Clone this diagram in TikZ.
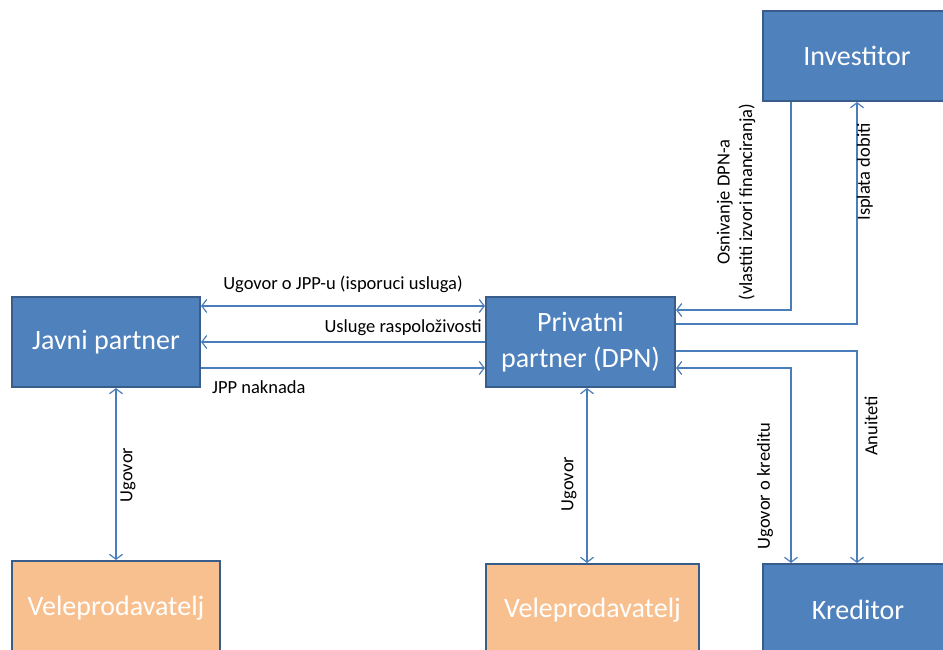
\documentclass[tikz,border=0pt]{standalone}
\usepackage{fontspec}
\setmainfont{Carlito}
\usetikzlibrary{arrows.meta,calc}
\definecolor{boxblue}{HTML}{4F81BD}
\definecolor{boxedge}{HTML}{385D8A}
\definecolor{boxorange}{HTML}{F9C08F}
\definecolor{linkblue}{HTML}{4A7EBB}
\begin{document}
\begin{tikzpicture}[x=1pt,y=-1pt,
  bluebox/.style={draw=boxedge,line width=2pt,fill=boxblue,text=white,font=\fontsize{28}{36}\selectfont,align=center,inner sep=0pt},
  orangebox/.style={draw=boxedge,line width=2pt,fill=boxorange,text=white,font=\fontsize{28}{36}\selectfont,align=center,inner sep=0pt},
  link/.style={draw=linkblue,line width=1.2pt,>={Straight Barb[length=5pt,width=13pt,line width=1.2pt]}},
  lbl/.style={font=\fontsize{18.5}{22.5}\selectfont,text=black,inner sep=0pt,align=center}]
\useasboundingbox (0,0) rectangle (943,650);
\fill[white] (0,0) rectangle (943,650);
% boxes
\node[bluebox,minimum width=188pt,minimum height=90pt] (jav) at (106,342) {Javni partner};
\node[bluebox,minimum width=189pt,minimum height=90pt] (pri) at (580.5,342) {Privatni\\partner (DPN)};
\node[bluebox,minimum width=188pt,minimum height=90pt] (inv) at (857,56) {Investitor};
\node[bluebox,minimum width=190pt,minimum height=92pt] (kre) at (858,610) {Kreditor};
\node[orangebox,minimum width=208pt,minimum height=94pt] (vel1) at (116,608) {Veleprodavatelj};
\node[orangebox,minimum width=213pt,minimum height=92pt] (vel2) at (592.5,610) {Veleprodavatelj};
% connectors
\draw[link,<->] ([yshift=36pt]jav.east) -- ([yshift=36pt]pri.west);
\draw[link,->] (pri.west) -- (jav.east);
\draw[link,->] ([yshift=-26pt]jav.east) -- ([yshift=-26pt]pri.west);
\draw[link,<->] (vel1.north |- jav.south) -- (vel1.north);
\draw[link,<->] ([xshift=6.5pt]pri.south) -- ([xshift=6.5pt]pri.south |- vel2.north);
\draw[link,->] ([xshift=-66pt]inv.south) |- ([yshift=32pt]pri.east);
\draw[link,->] ([yshift=18pt]pri.east) -| (inv.south);
\draw[link,->] ([yshift=-9pt]pri.east) -| ([xshift=-1pt]kre.north);
\draw[link,<->] ([xshift=-67pt]kre.north) |- ([yshift=-26pt]pri.east);
% labels
\node[lbl] (l1) at (343,284) {Ugovor o JPP-u (isporuci usluga)};
\node[lbl,anchor=east] (l2) at (482,328) {Usluge raspoloživosti};
\node[lbl,anchor=west] (l3) at (212,387) {JPP naknada};
\node[lbl,rotate=90] (l4) at (128,475) {Ugovor};
\node[lbl,rotate=90] (l5) at (569,484) {Ugovor};
\node[lbl,rotate=90] (l6) at (736,202) {Osnivanje DPN-a\\(vlastiti izvori financiranja)};
\node[lbl,rotate=90] (l7) at (865,172) {Isplata dobiti};
\node[lbl,rotate=90] (l8) at (871,426) {Anuiteti};
\node[lbl,rotate=90] (l9) at (765,486) {Ugovor o kreditu};
\end{tikzpicture}
\end{document}
